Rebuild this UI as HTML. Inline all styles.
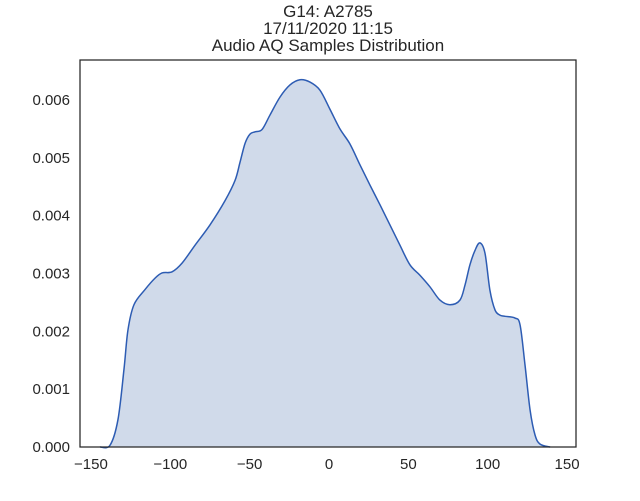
<!DOCTYPE html>
<html><head><meta charset="utf-8"><style>
body{margin:0;background:#fff;}
svg text{font-family:"Liberation Sans",sans-serif;fill:#262626;}
</style></head><body>
<svg width="640" height="496">
<g id="plot"></g>
<text x="328" y="17" text-anchor="middle" font-size="17">G14: A2785</text>
<text x="328" y="34" text-anchor="middle" font-size="17">17/11/2020 11:15</text>
<text x="328" y="51" text-anchor="middle" font-size="17">Audio AQ Samples Distribution</text>
</svg>
<script>
const xVals=[-144.3,-138,-133,-129.2,-126.7,-122.9,-116,-109.6,-105.2,-98.9,-92.6,-84.4,-75,-65.5,-59.2,-56.1,-52.9,-49.8,-46.6,-42.2,-37.2,-30.9,-24.6,-18.3,-12,-5.7,0.6,6.9,13.2,19.5,25.8,32.1,38.4,44.7,51,57.3,63.6,69.9,76.2,82.5,85.7,88.8,92,95.1,98.3,101.4,104.6,107.7,110.9,117.2,120.4,123.5,126.7,129.8,133,139.3];
const densities=[0,0.00003,0.00047,0.00134,0.00202,0.00246,0.00272,0.00292,0.00301,0.00303,0.00318,0.00349,0.00384,0.00426,0.00461,0.00492,0.00525,0.00541,0.00545,0.00549,0.00574,0.00605,0.00626,0.00635,0.00631,0.00617,0.00584,0.0055,0.00524,0.00488,0.00453,0.00419,0.00384,0.00349,0.00315,0.00297,0.00277,0.00254,0.00246,0.00254,0.0028,0.00315,0.0034,0.00353,0.00335,0.00271,0.00237,0.00228,0.00226,0.00223,0.00211,0.00142,0.00064,0.00021,0.00005,0];
const xTicks=[-150,-100,-50,0,50,100,150];
const yTicks=[0,0.001,0.002,0.003,0.004,0.005,0.006];
const yTickLabels=["0.000","0.001","0.002","0.003","0.004","0.005","0.006"];
const L=80,R=576,T=60,B=447;
const sx=v=>329+v*1.587;
const sy=v=>B-v*57830;
const NS="http://www.w3.org/2000/svg";
const g=document.getElementById('plot');
function mk(t,a){const e=document.createElementNS(NS,t);for(const k in a)e.setAttribute(k,a[k]);g.appendChild(e);return e;}
const pts=xVals.map((x,i)=>[sx(x),sy(densities[i])]);
let d="M"+pts[0][0]+","+pts[0][1];
for(let i=0;i<pts.length-1;i++){const p0=pts[Math.max(0,i-1)],p1=pts[i],p2=pts[i+1],p3=pts[Math.min(pts.length-1,i+2)];
d+=` C${p1[0]+(p2[0]-p0[0])/6},${p1[1]+(p2[1]-p0[1])/6} ${p2[0]-(p3[0]-p1[0])/6},${p2[1]-(p3[1]-p1[1])/6} ${p2[0]},${p2[1]}`;}
const area=mk('path',{d:d+` L${pts[pts.length-1][0]},${B} L${pts[0][0]},${B} Z`,fill:'#d0daea'});


const line=mk('path',{d:d,fill:'none',stroke:'#2d5cb3','stroke-width':1.5});


const frame=mk('rect',{x:L,y:T,width:R-L,height:B-T,fill:'none',stroke:'#262626','stroke-width':1.25});


xTicks.forEach(v=>{const t=mk('text',{x:sx(v),y:B+22,'text-anchor':'middle','font-size':15});t.textContent=(v<0?'\u2212'+(-v):v);

});
yTicks.forEach((v,i)=>{const t=mk('text',{x:L-10,y:sy(v)+5,'text-anchor':'end','font-size':15});t.textContent=yTickLabels[i];

});
</script>
</body></html>
